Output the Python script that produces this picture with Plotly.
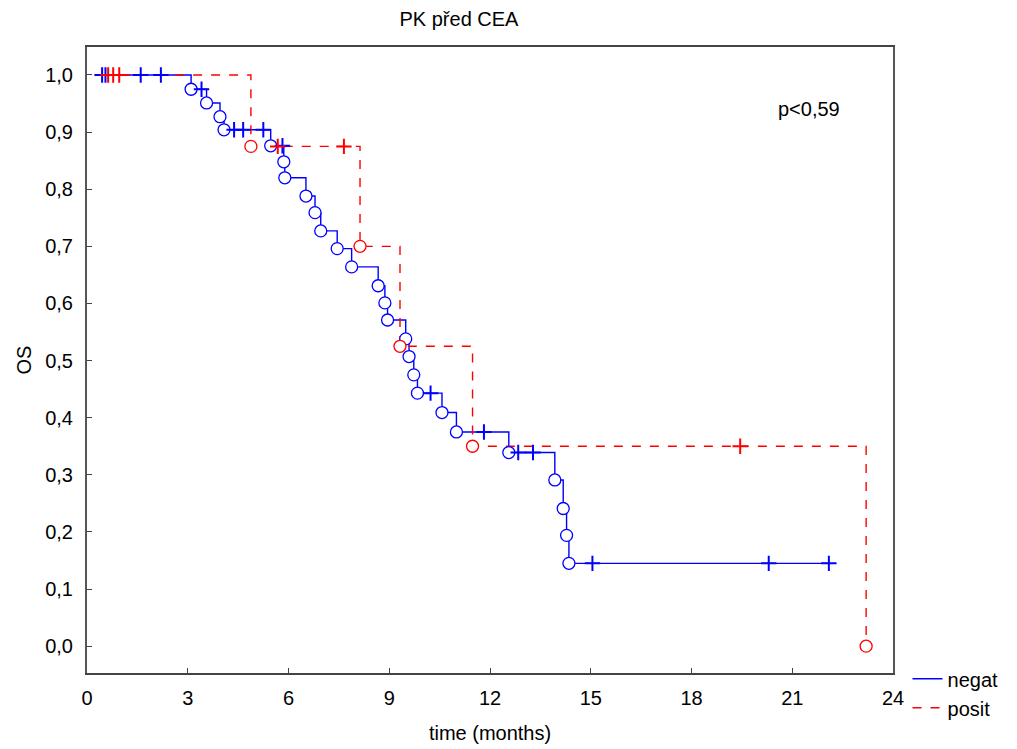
import plotly.graph_objects as go

# ---- data ----
neg_times = [0.40, 3.10, 3.56, 3.96, 4.08, 5.47, 5.86, 5.89, 6.52, 6.79, 6.96, 7.45, 7.88,
             8.67, 8.87, 8.95, 9.49, 9.59, 9.73, 9.84, 10.57, 11.00, 12.56, 13.93, 14.18,
             14.28, 14.35, 22.09]
neg_surv = [1.000, 0.975, 0.951, 0.927, 0.904, 0.876, 0.848, 0.820, 0.788, 0.759, 0.727,
            0.696, 0.664, 0.631, 0.601, 0.571, 0.538, 0.507, 0.475, 0.443, 0.409, 0.375,
            0.339, 0.291, 0.241, 0.194, 0.145, 0.145]
neg_event_t = neg_times[1:-1]
neg_event_s = neg_surv[1:-1]
neg_cens_t = [0.45, 0.55, 1.60, 2.20, 3.41, 4.38, 4.65, 5.25, 5.82, 10.23, 11.82, 12.84,
              13.28, 15.05, 20.30, 22.09]
neg_cens_s = [1.000, 1.000, 1.000, 1.000, 0.975, 0.904, 0.904, 0.904, 0.876, 0.443, 0.375,
              0.339, 0.339, 0.145, 0.145, 0.145]

pos_times = [0.48, 4.88, 8.13, 9.32, 11.48, 23.20]
pos_surv = [1.000, 0.875, 0.700, 0.525, 0.350, 0.000]
pos_event_t = pos_times[1:]
pos_event_s = pos_surv[1:]
pos_cens_t = [0.63, 0.78, 0.96, 5.68, 7.65, 19.45]
pos_cens_s = [1.000, 1.000, 1.000, 0.875, 0.875, 0.350]

x_ticks = [0, 3, 6, 9, 12, 15, 18, 21, 24]
y_ticks = [0.0, 0.1, 0.2, 0.3, 0.4, 0.5, 0.6, 0.7, 0.8, 0.9, 1.0]

BLUE = "#0000ff"
RED = "#ff0000"
FONT = "Liberation Sans, Arial, sans-serif"
FS = 20

fig = go.Figure()

# step lines (legend entries)
fig.add_trace(go.Scatter(x=neg_times, y=neg_surv, mode="lines", line_shape="hv",
                         line=dict(color=BLUE, width=1.4), name="negat"))
fig.add_trace(go.Scatter(x=pos_times, y=pos_surv, mode="lines", line_shape="hv",
                         line=dict(color=RED, width=1.4, dash="dash"), name="posit"))

# event markers (open circles with white interior)
fig.add_trace(go.Scatter(x=neg_event_t, y=neg_event_s, mode="markers", showlegend=False,
                         marker=dict(symbol="circle", size=12, color="white",
                                     line=dict(width=1.3, color=BLUE))))
fig.add_trace(go.Scatter(x=pos_event_t, y=pos_event_s, mode="markers", showlegend=False,
                         marker=dict(symbol="circle", size=12, color="white",
                                     line=dict(width=1.3, color=RED))))
# censor marks (+)
fig.add_trace(go.Scatter(x=neg_cens_t, y=neg_cens_s, mode="markers", showlegend=False,
                         marker=dict(symbol="cross-thin-open", size=11, color=BLUE,
                                     line=dict(width=2, color=BLUE))))
fig.add_trace(go.Scatter(x=pos_cens_t, y=pos_cens_s, mode="markers", showlegend=False,
                         marker=dict(symbol="cross-thin-open", size=11, color=RED,
                                     line=dict(width=2, color=RED))))

fig.add_annotation(x=21.5, y=0.94, xref="x", yref="y", text="p<0,59", showarrow=False,
                   font=dict(size=FS, color="black", family=FONT))

fig.update_layout(
    width=1017, height=749,
    margin=dict(l=87, r=124, t=47, b=76),
    paper_bgcolor="white", plot_bgcolor="white",
    separators=", ",
    font=dict(family=FONT, size=FS, color="black"),
    title=dict(text="PK před CEA", x=0.4615, xanchor="center", xref="paper",
               y=0.974, yanchor="middle",
               font=dict(size=FS, family=FONT, color="black")),
    showlegend=True,
    legend=dict(x=1.018, y=0.022, xanchor="left", yanchor="top", bgcolor="rgba(0,0,0,0)",
                font=dict(size=FS, family=FONT), tracegroupgap=0, itemwidth=30),
    xaxis=dict(range=[0, 24], tickvals=x_ticks, ticks="inside", ticklen=5,
               showgrid=False, zeroline=False, showline=True, mirror=True, automargin=False,
               linecolor="#444", linewidth=1.5, tickcolor="#444", ticklabelstandoff=6,
               title=dict(text="time (months)", font=dict(size=FS), standoff=18)),
    yaxis=dict(range=[-0.047, 1.049], tickvals=y_ticks, tickformat=".1f", ticks="inside",
               ticklen=5, showgrid=False, zeroline=False, showline=True, mirror=True,
               automargin=False,
               linecolor="#555", linewidth=2, tickcolor="#444", ticklabelstandoff=8,
               title=dict(text="OS", font=dict(size=FS), standoff=8)),
)

fig.write_html("out.html")
